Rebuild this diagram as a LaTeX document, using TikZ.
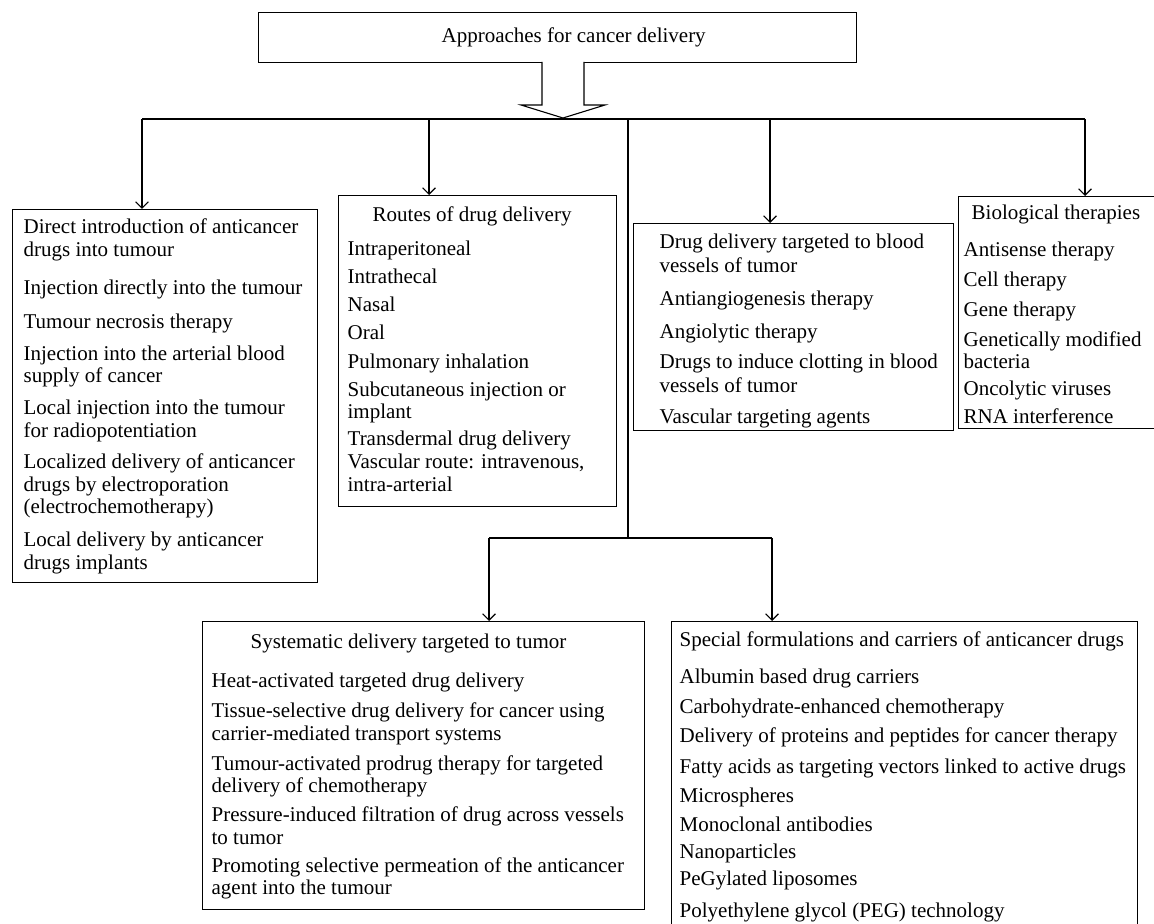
\documentclass[tikz,border=0pt]{standalone}
\usepackage{fontspec}
\setmainfont{Liberation Serif}
\usepackage{tikz}
\usetikzlibrary{arrows.meta}

\tikzset{
  catbox/.style={draw, line width=0.65pt, inner sep=0pt, anchor=north west,
    font=\fontsize{10.5}{11.35}\selectfont},
  wire/.style={line width=0.55pt},
  feed/.style={line width=0.55pt, -{Straight Barb[length=3.2pt, width=6.4pt]}}
}

% box width, left pad, box height, first baseline, lines
\newcommand{\panel}[5]{\makebox[#1][l]{\hspace*{#2}\parbox[t][#3][t]{20cm}{%
  \setlength{\parskip}{0pt}\raggedright\rule{0pt}{#4}#5}}}

\begin{document}
\begin{tikzpicture}[x=0.5pt, y=-0.5pt]
\useasboundingbox (0,0) rectangle (1154,924);

\node[catbox, minimum width=299pt, minimum height=25pt] (top) at (258,12) {\hspace*{16pt}Approaches for cancer delivery};

\node[catbox] (direct) at (12,209) {\panel{152.5pt}{5.5pt}{186.5pt}{12pt}{%
Direct introduction of anticancer\\
drugs into tumour\\[7.6pt]
Injection directly into the tumour\\[5.6pt]
Tumour necrosis therapy\\[4.6pt]
Injection into the arterial blood\\
supply of cancer\\[4.6pt]
Local injection into the tumour\\
for radiopotentiation\\[4.2pt]
Localized delivery of anticancer\\
drugs by electroporation\\
(electrochemotherapy)\\[5.1pt]
Local delivery by anticancer\\
drugs implants}};

\node[catbox] (routes) at (338,195) {\panel{139pt}{4.5pt}{155.5pt}{13pt}{%
\hspace*{12.5pt}Routes of drug delivery\\[5.6pt]
Intraperitoneal\\[2.6pt]
Intrathecal\\[2.6pt]
Nasal\\[2.6pt]
Oral\\[3.1pt]
Pulmonary inhalation\\[2.6pt]
Subcutaneous injection or\\
implant\\[2.1pt]
Transdermal drug delivery\\
Vascular route: intravenous,\\
intra-arterial}};

\node[catbox] (vessels) at (633,223) {\panel{160pt}{13pt}{103.5pt}{12.5pt}{%
Drug delivery targeted to blood\\[0.6pt]
vessels of tumor\\[5.1pt]
Antiangiogenesis therapy\\[5.1pt]
Angiolytic therapy\\[3.6pt]
Drugs to induce clotting in blood\\[0.6pt]
vessels of tumor\\[4.1pt]
Vascular targeting agents}};

\node[catbox] (bio) at (958,196) {\panel{104pt}{2.5pt}{116pt}{11.5pt}{%
\hspace*{4pt}Biological therapies\\[7.1pt]
Antisense therapy\\[3.6pt]
Cell therapy\\[3.6pt]
Gene therapy\\[3.6pt]
Genetically modified\\
bacteria\\[2.1pt]
Oncolytic viruses\\[2.6pt]
RNA interference}};

\node[catbox] (systemic) at (202,621) {\panel{221pt}{4.5pt}{144pt}{13.5pt}{%
\hspace*{19.5pt}Systematic delivery targeted to tumor\\[8.1pt]
Heat-activated targeted drug delivery\\[3.6pt]
Tissue-selective drug delivery for cancer using\\
carrier-mediated transport systems\\[3.6pt]
Tumour-activated prodrug therapy for targeted\\
delivery of chemotherapy\\[3.1pt]
Pressure-induced filtration of drug across vessels\\
to tumor\\[2.6pt]
Promoting selective permeation of the anticancer\\
agent into the tumour}};

\node[catbox] (special) at (671,621) {\panel{233pt}{4pt}{162pt}{12.5pt}{%
Special formulations and carriers of anticancer drugs\\[7.1pt]
Albumin based drug carriers\\[3.6pt]
Carbohydrate-enhanced chemotherapy\\[3.1pt]
Delivery of proteins and peptides for cancer therapy\\[4.1pt]
Fatty acids as targeting vectors linked to active drugs\\[3.1pt]
Microspheres\\[3.1pt]
Monoclonal antibodies\\[2.6pt]
Nanoparticles\\[2.1pt]
PeGylated liposomes\\[4.6pt]
Polyethylene glycol (PEG) technology}};

\coordinate (stem) at (563,62);
\draw[wire, fill=white] (stem) ++(-21,0) -- ++(0,43) -- ++(-21,0) -- ++(42,13) -- ++(42,-13) -- ++(-21,0) -- ++(0,-43);

\coordinate (busL) at (142,119);
\coordinate (busR) at (1085,119);
\coordinate (tapR) at (429,119);
\coordinate (tapV) at (770,119);
\coordinate (hub) at (628,119);
\coordinate (fork) at (628,538);
\coordinate (forkL) at (489,538);
\coordinate (forkR) at (772,538);

\draw[wire] (busL) -- (busR);
\draw[feed] (busL) -- (busL |- direct.north);
\draw[feed] (tapR) -- (tapR |- routes.north);
\draw[feed] (tapV) -- (tapV |- vessels.north);
\draw[feed] (busR) -- (busR |- bio.north);

\draw[wire] (hub) -- (fork);
\draw[wire] (forkL) -- (forkR);
\draw[feed] (forkL) -- (forkL |- systemic.north);
\draw[feed] (forkR) -- (forkR |- special.north);
\end{tikzpicture}
\end{document}
